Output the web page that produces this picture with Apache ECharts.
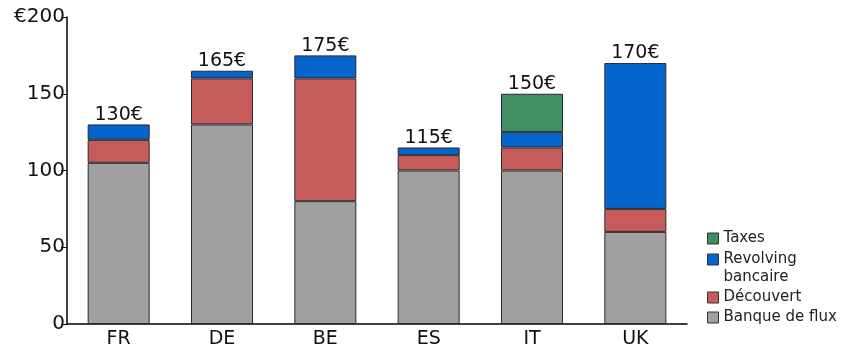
<!DOCTYPE html>
<html><head><meta charset="utf-8">
<script src="https://cdn.jsdelivr.net/npm/echarts@6/dist/echarts.min.js"></script>
<style>html,body{margin:0;padding:0;background:#fff}#c{width:843px;height:349px}</style>
</head><body><div id="c"></div>
<script>
const categories = ['FR','DE','BE','ES','IT','UK'];
const banque = [105,130,80,100,100,60];
const decouvert = [15,30,80,10,15,15];
const revolving = [10,5,15,5,10,95];
const taxes = [0,0,0,0,25,0];
const totals = [130,165,175,115,150,170];
const yTicks = ['0','50','100','150','€200'];
const legendNames = ['Taxes','Revolving bancaire','Découvert','Banque de flux'];

const font = 'DejaVu Sans';
const border = {borderColor:'#2a2a2a', borderWidth:1};
function ser(name, data, color){
  return {name, type:'bar', stack:'s', data, barWidth:'60%',
    itemStyle:Object.assign({color}, border)};
}
const legendTops = [229, 241, 288, 308];
const legends = legendNames.map((n,i)=>{
  const multi = n.indexOf('Revolving')===0;
  const lg = {
    orient:'vertical', left:707, top:legendTops[i], padding:0, itemWidth:11, itemHeight:11,
    icon:'rect', data:[n], selectedMode:false,
    textStyle:{fontFamily:font,fontSize:15,color:'#222',lineHeight:19},
    itemStyle:{borderColor:'#333',borderWidth:1}
  };
  if (multi) {
    const parts = n.split(' ');
    lg.formatter = () => '{a|'+parts[0]+'}\n{b|'+parts.slice(1).join(' ')+'}';
    lg.textStyle.rich = {
      a:{fontFamily:font,fontSize:15,color:'#222',lineHeight:36},
      b:{fontFamily:font,fontSize:15,color:'#222',lineHeight:1}
    };
  }
  return lg;
});
const chart = echarts.init(document.getElementById('c'));
chart.setOption({
  animation:false,
  textStyle:{fontFamily:font},
  grid:{left:67,right:156,top:17,bottom:24},
  legend:legends,
  xAxis:{type:'category', data:categories,
    axisLine:{lineStyle:{color:'#000',width:1.5}}, axisTick:{show:false},
    axisLabel:{fontFamily:font,fontSize:19,color:'#111',margin:6}},
  yAxis:{type:'value', min:0, max:200, interval:50,
    axisLine:{show:true,lineStyle:{color:'#000',width:1.5}},
    axisTick:{show:true,length:6,lineStyle:{color:'#000'}},
    splitLine:{show:false},
    axisLabel:{fontFamily:font,fontSize:20,color:'#111',margin:2,
      formatter:(v)=>yTicks[v/50]}},
  series:[
    ser('Banque de flux', banque, '#a0a0a0'),
    ser('Découvert', decouvert, '#c55b5b'),
    ser('Revolving bancaire', revolving, '#0565cc'),
    ser('Taxes', taxes.map(v=>v===0?null:v), '#3f8f62'),
    {name:'total', type:'bar', stack:'s', barWidth:'60%', data:categories.map(()=>0),
      itemStyle:{color:'transparent',borderWidth:0},
      label:{show:true, position:'top', distance:0, fontFamily:font, fontSize:19, color:'#111',
        formatter:(p)=>totals[p.dataIndex]+'€'}}
  ]
});
</script></body></html>
